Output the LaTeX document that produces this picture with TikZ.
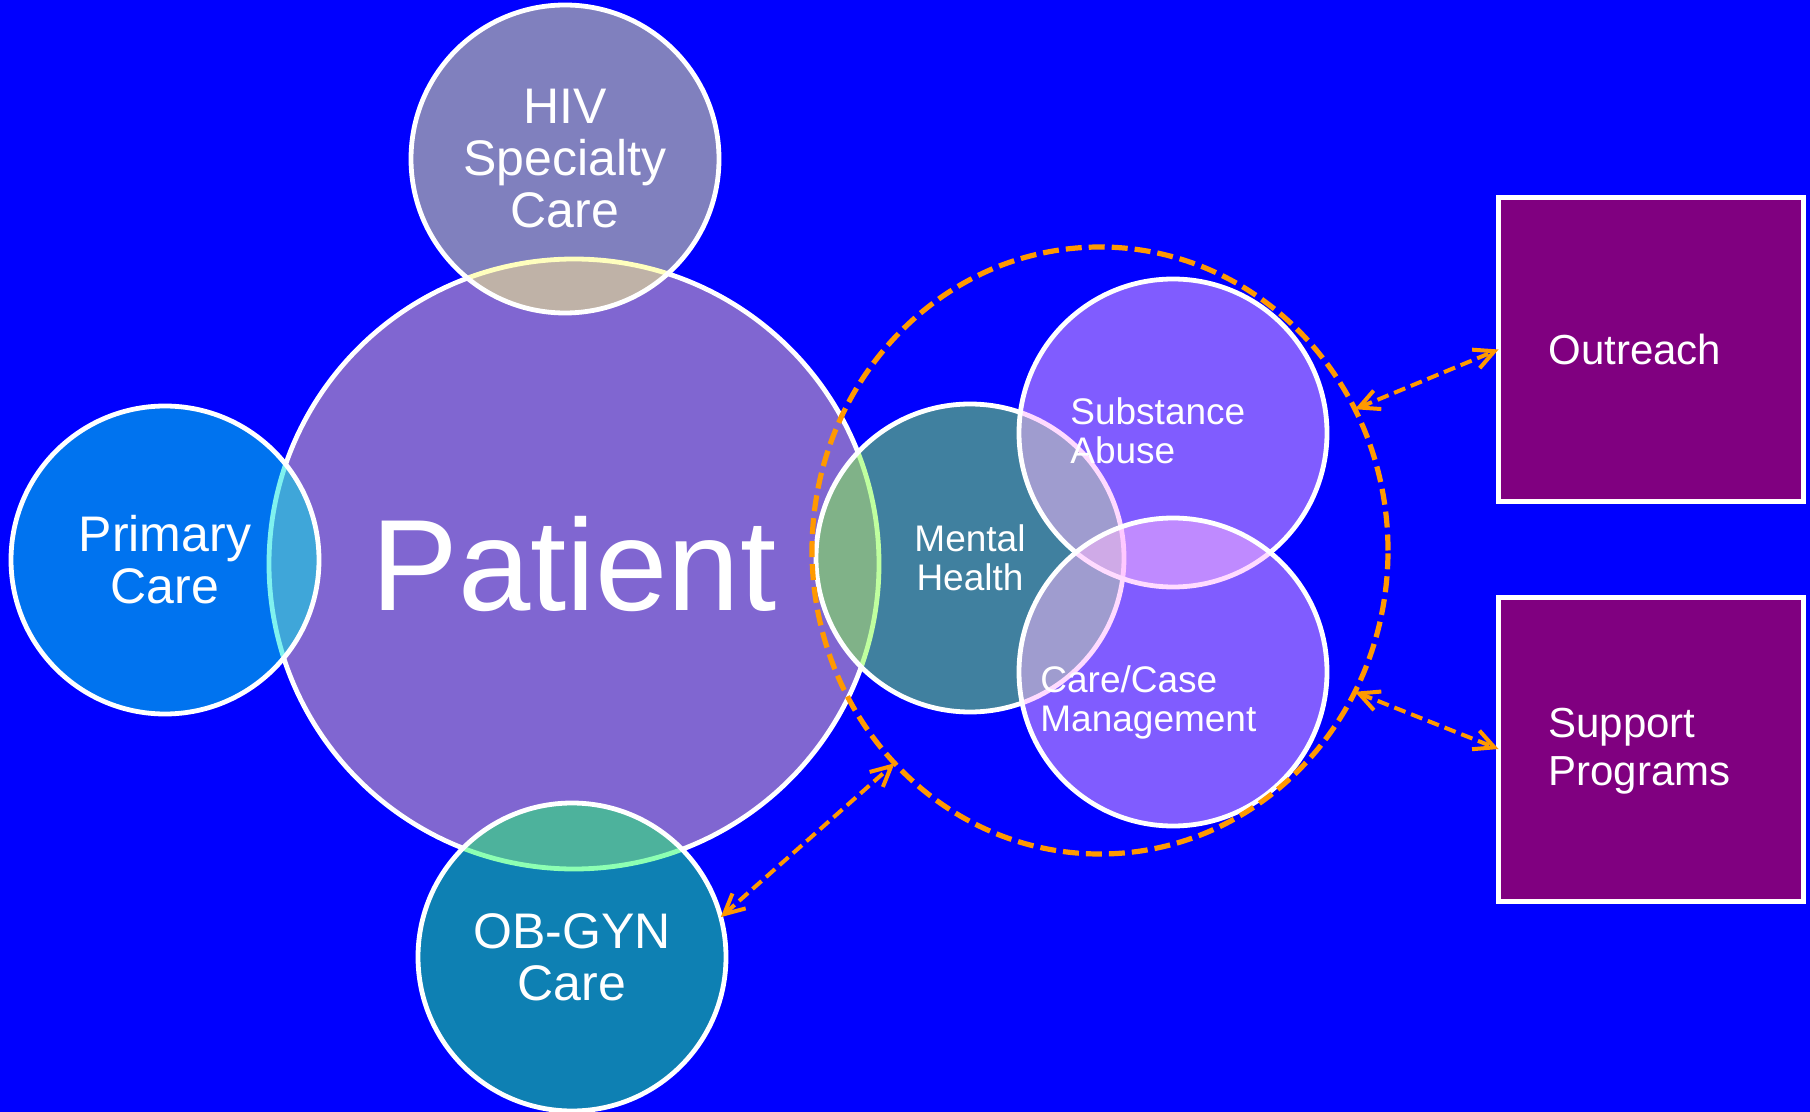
\documentclass[tikz,border=0pt]{standalone}
\usepackage{fontspec}
\setmainfont{Liberation Sans}
\usetikzlibrary{shapes.geometric,arrows.meta}
\definecolor{bg}{RGB}{0,0,255}
\definecolor{patientfill}{RGB}{255,204,164}
\definecolor{hivfill}{RGB}{255,255,127}
\definecolor{primfill}{RGB}{0,230,225}
\definecolor{obfill}{RGB}{28,255,105}
\definecolor{mhfill}{RGB}{128,255,65}
\definecolor{safill}{RGB}{255,184,255}
\definecolor{boxfill}{RGB}{128,0,128}
\definecolor{dashorange}{RGB}{255,153,0}
\begin{document}
\begin{tikzpicture}[x=0.5pt,y=-0.5pt,
  bubble/.style={circle, draw=white, line width=2.4pt, inner sep=0pt, outer sep=0pt,
    minimum size=154pt, fill opacity=0.5, draw opacity=1, text opacity=1,
    text=white, align=center},
  bigfont/.style={font=\fontsize{25pt}{26pt}\selectfont},
  smallfont/.style={font=\fontsize{18.5pt}{19.5pt}\selectfont},
  boxfont/.style={font=\fontsize{21pt}{24pt}\selectfont},
  sidebox/.style={rectangle, draw=white, line width=2.5pt, fill=boxfill,
    minimum width=152.5pt, minimum height=152pt, text width=102.5pt,
    inner xsep=25pt, inner ysep=0pt, align=left, text=white, outer sep=0pt},
  bubbletext/.style={text=white, align=left, inner sep=0pt, anchor=north west},
  link/.style={draw=dashorange, line width=2pt, dash pattern=on 6pt off 3pt,
    {Straight Barb[length=10pt,width=10pt]}-{Straight Barb[length=10pt,width=10pt]}},
  teamring/.style={ellipse, draw=dashorange, line width=2.6pt,
    dash pattern=on 8pt off 3.5pt, minimum width=288pt, minimum height=303.5pt,
    inner sep=0pt, outer sep=0pt}
]
\useasboundingbox (0,0) rectangle (1810,1112);
\fill[bg] (0,0) rectangle (1810,1112);

\node[bubble, minimum size=305pt, fill=patientfill, font=\fontsize{65pt}{70pt}\selectfont] (patient) at (574,564) {Patient};
\node[bubble, fill=hivfill, bigfont] (hiv) at (565,159) {HIV\\Specialty\\Care};
\node[bubble, fill=primfill, bigfont] (primary) at (165,560) {Primary\\Care};
\node[bubble, fill=obfill, bigfont] (obgyn) at (572,957) {OB-GYN\\Care};
\node[bubble, fill=mhfill, smallfont] (mental) at (970,558) {Mental\\Health};
\node[bubble, fill=safill] (substance) at (1173,433) {};
\node[bubble, fill=safill] (casemgmt) at (1173,672) {};
\node[bubbletext, smallfont] (satext) at (1070,397) {Substance\\Abuse};
\node[bubbletext, smallfont] (cmtext) at (1040,665) {Care/Case\\Management};

\node[teamring] (team) at (1100,550.5) {};

\node[sidebox, boxfont] (outreach) at (1651,349.5) {Outreach};
\node[sidebox, boxfont] (support) at (1651,749) {\strut Support\\Programs};

\draw[link] (obgyn.15) -- (team.226.6);
\draw[link] (team.29.2) -- (outreach.west);
\draw[link] (team.-29.5) -- (support.west);
\end{tikzpicture}
\end{document}
